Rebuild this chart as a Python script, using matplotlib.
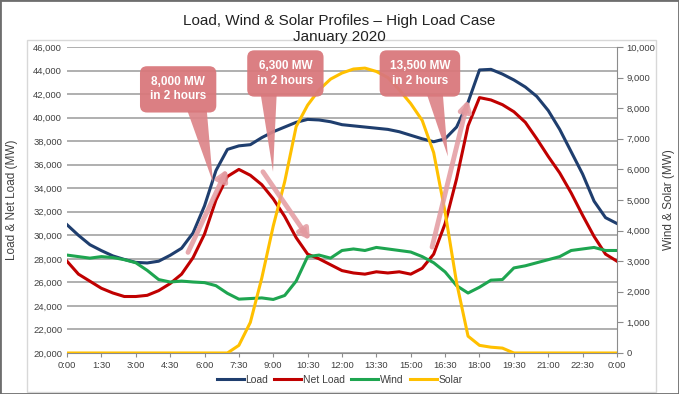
import numpy as np
import matplotlib
matplotlib.use("Agg")
import matplotlib.pyplot as plt
from matplotlib.patches import Polygon, Rectangle

plt.rcParams["font.family"] = ["Liberation Sans", "DejaVu Sans"]

# half-hourly profile, hours since midnight
hours = np.arange(0, 24.5, 0.5)

load = [30900, 30000, 29200, 28700, 28250, 27950, 27700, 27650, 27800, 28300,
        28900, 30200, 32500, 35500, 37300, 37600, 37700, 38300, 38800, 39200,
        39600, 39850, 39800, 39650, 39400, 39300, 39200, 39100, 39000, 38800,
        38500, 38200, 37950, 38200, 39200, 41300, 44050, 44100, 43700, 43200,
        42600, 41800, 40600, 39000, 37100, 35200, 32900, 31500, 31000]

net_load = [27800, 26700, 26100, 25500, 25100, 24800, 24800, 24900, 25300, 25900,
            26700, 28100, 30100, 33000, 35000, 35600, 35100, 34300, 33100, 31600,
            29800, 28400, 28000, 27500, 27000, 26800, 26700, 26900, 26800, 26900,
            26700, 27200, 28400, 31000, 34800, 39300, 41700, 41500, 41100, 40500,
            39600, 38200, 36700, 35300, 33600, 31700, 29900, 28400, 27800]

wind = [3200, 3150, 3100, 3150, 3120, 3050, 2950, 2700, 2400, 2320,
        2350, 2320, 2300, 2200, 1950, 1760, 1780, 1800, 1750, 1880,
        2350, 3150, 3200, 3100, 3350, 3400, 3350, 3450, 3400, 3350,
        3300, 3150, 2950, 2650, 2200, 1960, 2150, 2380, 2400, 2780,
        2850, 2950, 3050, 3150, 3350, 3400, 3450, 3350, 3350]

solar = [0, 0, 0, 0, 0, 0, 0, 0, 0, 0,
         0, 0, 0, 0, 0, 250, 1000, 2450, 4150, 5600,
         7400, 8100, 8600, 8950, 9150, 9280, 9310, 9200, 9000, 8600,
         8150, 7600, 6550, 4600, 2300, 550, 250, 190, 160, 0,
         0, 0, 0, 0, 0, 0, 0, 0, 0]

xtick_labels = ["0:00", "1:30", "3:00", "4:30", "6:00", "7:30", "9:00", "10:30",
                "12:00", "13:30", "15:00", "16:30", "18:00", "19:30", "21:00",
                "22:30", "0:00"]

# callouts: text, box centre (h, MW), tail base (h0, h1, MW), tail tip (h, MW)
callouts = [
    ("8,000 MW\nin 2 hours", (4.85, 42400), (5.25, 6.1, 40600), (6.37, 34500)),
    ("6,300 MW\nin 2 hours", (9.53, 43750), (8.45, 9.15, 42000), (8.99, 35400)),
    ("13,500 MW\nin 2 hours", (15.4, 43750), (15.7, 16.4, 42000), (16.62, 36700)),
]
ramps = [((5.28, 28550), (6.98, 35600)),
         ((8.55, 35400), (10.6, 29600)),
         ((15.93, 29000), (17.5, 41500))]

fig = plt.figure(figsize=(6.79, 3.94), dpi=100)
ax = fig.add_axes([67 / 679, 1 - 353 / 394, 550 / 679, 306 / 394])
ax2 = ax.twinx()

c_load, c_net, c_wind, c_solar = "#1F3E6E", "#C00000", "#1EA550", "#FFC000"

l1, = ax.plot(hours, load, color=c_load, lw=2.2, label="Load")
l2, = ax.plot(hours, net_load, color=c_net, lw=2.2, label="Net Load")
l3, = ax2.plot(hours, wind, color=c_wind, lw=2.2, label="Wind")
l4, = ax2.plot(hours, solar, color=c_solar, lw=2.2, label="Solar")

ax.set_xlim(0, 24)
ax.set_ylim(20000, 46000)
ax2.set_ylim(0, 10000)
ax.set_xticks(np.arange(0, 24.1, 1.5))
ax.set_xticklabels(xtick_labels)
ax.set_yticks(np.arange(20000, 46001, 2000))
ax.set_yticklabels([f"{v:,}" for v in range(20000, 46001, 2000)])
ax2.set_yticks(np.arange(0, 10001, 1000))
ax2.set_yticklabels([f"{v:,}" for v in range(0, 10001, 1000)])

ax.yaxis.grid(True, color="#9A9A9A", lw=1.1)
ax.set_axisbelow(True)
for s in ["top", "left", "right"]:
    ax.spines[s].set_visible(False)
for s in ["top", "left", "bottom"]:
    ax2.spines[s].set_visible(False)
ax.spines["bottom"].set_color("#8C8C8C")
ax2.spines["right"].set_color("#8C8C8C")
ax.tick_params(axis="y", length=0, pad=3.5, labelsize=6.8, labelcolor="#404040")
ax.tick_params(axis="x", length=3, color="#8C8C8C", pad=3, labelsize=6.8,
               labelcolor="#404040")
ax2.tick_params(axis="y", length=4, color="#8C8C8C", pad=3, labelsize=6.8,
                labelcolor="#404040")

ax.set_ylabel("Load & Net Load (MW)", fontsize=8.5, color="#404040", labelpad=11)
ax2.set_ylabel("Wind & Solar (MW)", fontsize=8.5, color="#404040", labelpad=5)
fig.text(0.5, 1 - 29 / 394, "Load, Wind & Solar Profiles \u2013 High Load Case\nJanuary 2020",
         ha="center", va="center", fontsize=11, color="#222222", linespacing=1.1)

# ramp arrows and callouts sit on top of every line
for (x0, y0), (x1, y1) in ramps:
    ax2.annotate("", xy=(x1, y1), xytext=(x0, y0), xycoords=ax.transData,
                 textcoords=ax.transData,
                 arrowprops=dict(arrowstyle="-|>,head_length=0.6,head_width=0.35",
                                 color="#E39AA0", lw=3.5, alpha=0.85,
                                 shrinkA=0, shrinkB=0))
for text, (bx, by), (t0, t1, ty), (tx, tt) in callouts:
    ax2.add_patch(Polygon([(t0, ty), (t1, ty), (tx, tt)], closed=True,
                          facecolor="#DD8589", edgecolor="none", alpha=0.92,
                          transform=ax.transData))
    ax2.text(bx, by, text, transform=ax.transData, ha="center", va="center",
             color="white", fontsize=8.5, fontweight="bold", linespacing=1.25,
             bbox=dict(boxstyle="round,pad=0.85,rounding_size=0.6",
                       facecolor="#D9787C", edgecolor="none", alpha=0.95))

fig.legend(handles=[l1, l2, l3, l4], loc="center", bbox_to_anchor=(0.5, 1 - 380 / 394),
           ncol=4, frameon=False, fontsize=7.5, handlelength=2.6,
           handletextpad=0.15, columnspacing=0.6, labelcolor="#404040")

fig.add_artist(Rectangle((27 / 679, 2 / 394), 629 / 679, 352 / 394,
                         transform=fig.transFigure, fill=False,
                         edgecolor="#D8D8D8", lw=1))
fig.add_artist(Rectangle((0, 0), 1, 1, transform=fig.transFigure, fill=False,
                         edgecolor="#6E6E6E", lw=2))

fig.savefig("out.png", dpi=100)
